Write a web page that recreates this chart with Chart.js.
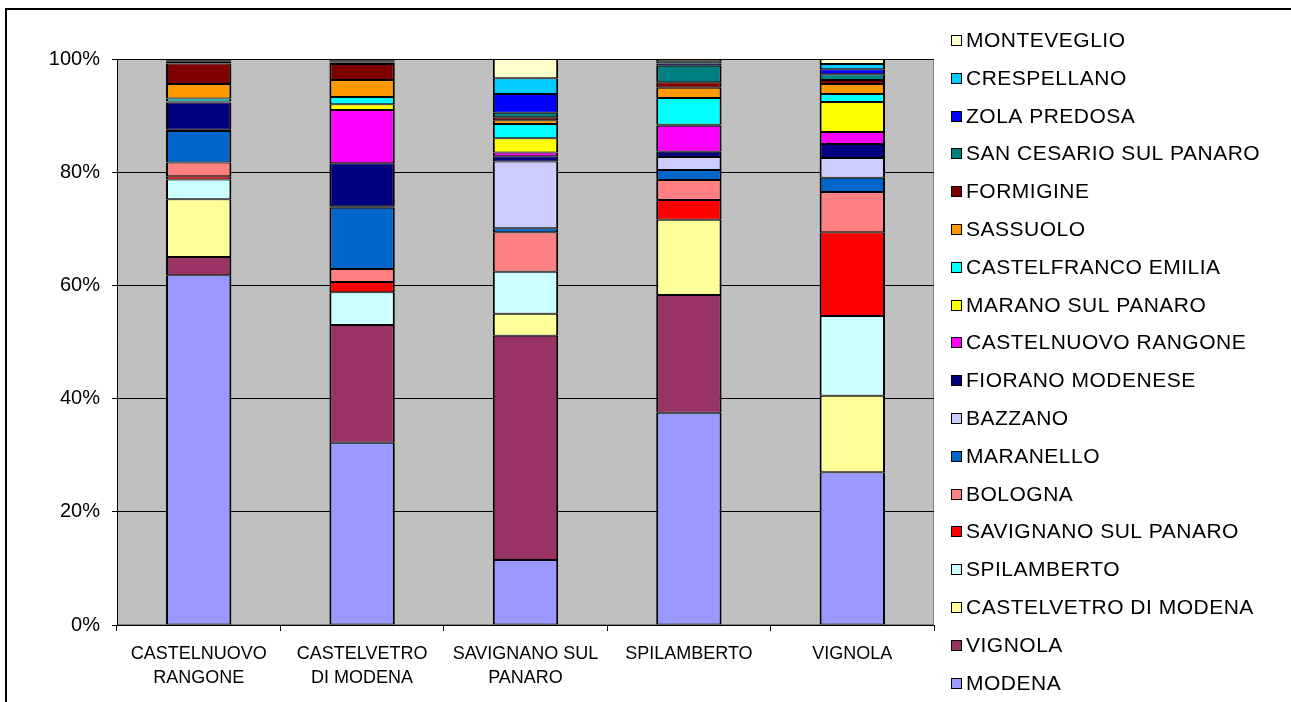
<!DOCTYPE html>
<html>
<head>
<meta charset="utf-8">
<script src="https://cdn.jsdelivr.net/npm/chart.js@4.4.1/dist/chart.umd.min.js"></script>
<style>
  html, body { margin: 0; padding: 0; background: #fff; }
  #wrap { width: 1291px; height: 702px; position: relative; }
</style>
</head>
<body>
<div id="wrap"><canvas id="chart" width="1291" height="702"></canvas></div>
<script>
// Categories (x axis), two-line labels like the original
const categories = [
    ['CASTELNUOVO', 'RANGONE'],
    ['CASTELVETRO', 'DI MODENA'],
    ['SAVIGNANO SUL', 'PANARO'],
    ['SPILAMBERTO'],
    ['VIGNOLA']
];

// Share (%) of each origin in each category, bottom to top
const modena       = [61.8, 32.2, 11.5, 37.5, 27.0];
const vignola      = [3.2, 20.8, 39.6, 20.8, 0];
const castelvetro  = [10.2, 0, 3.9, 13.3, 13.5];
const spilamberto  = [3.5, 5.8, 7.4, 0, 14.1];
const savignano    = [0.6, 1.8, 0, 3.5, 14.8];
const bologna      = [2.4, 2.3, 7.0, 3.5, 7.1];
const maranello    = [5.6, 10.8, 0.7, 1.8, 2.5];
const bazzano      = [0.2, 0.3, 11.8, 2.3, 3.5];
const fiorano      = [4.8, 7.6, 0.9, 0.9, 2.5];
const castelnuovo  = [0, 9.4, 0.7, 4.6, 2.1];
const marano       = [0.2, 1.0, 2.5, 0.2, 5.3];
const castelfranco = [0.5, 1.3, 2.5, 4.7, 1.4];
const sassuolo     = [2.6, 3.0, 0.7, 1.8, 1.8];
const formigine    = [3.6, 2.8, 0.5, 1.0, 0.7];
const sanCesario   = [0.3, 0.3, 0.8, 2.9, 1.0];
const zola         = [0.2, 0.2, 3.3, 0.4, 0.9];
const crespellano  = [0.2, 0.2, 2.8, 0.4, 0.9];
const monteveglio  = [0.1, 0.2, 3.4, 0.4, 0.9];

const seriesNames = [
    'MODENA', 'VIGNOLA', 'CASTELVETRO DI MODENA', 'SPILAMBERTO', 'SAVIGNANO SUL PANARO',
    'BOLOGNA', 'MARANELLO', 'BAZZANO', 'FIORANO MODENESE', 'CASTELNUOVO RANGONE',
    'MARANO SUL PANARO', 'CASTELFRANCO EMILIA', 'SASSUOLO', 'FORMIGINE',
    'SAN CESARIO SUL PANARO', 'ZOLA PREDOSA', 'CRESPELLANO', 'MONTEVEGLIO'
];
const seriesValues = [
    modena, vignola, castelvetro, spilamberto, savignano, bologna, maranello, bazzano,
    fiorano, castelnuovo, marano, castelfranco, sassuolo, formigine, sanCesario, zola,
    crespellano, monteveglio
];

const yTicks = [0, 20, 40, 60, 80, 100];

const seriesColors = [
    '#9999FF', '#993366', '#FFFF99', '#CCFFFF', '#FF0000', '#FF8080', '#0066CC', '#CCCCFF',
    '#000080', '#FF00FF', '#FFFF00', '#00FFFF', '#FF9900', '#800000', '#008080', '#0000FF',
    '#00CCFF', '#FFFFCC'
];

const FONT = '"Liberation Sans", Arial, sans-serif';

// grey plot background + outer frame
const framePlugin = {
    id: 'frame',
    beforeDraw(chart) {
        const { ctx, chartArea: a } = chart;
        ctx.save();
        ctx.fillStyle = '#fff';
        ctx.fillRect(0, 0, chart.width, chart.height);
        ctx.fillStyle = '#C0C0C0';
        ctx.fillRect(a.left, a.top, a.right - a.left, a.bottom - a.top);
        ctx.strokeStyle = '#808080';
        ctx.lineWidth = 1;
        ctx.strokeRect(a.left + 0.5, a.top + 0.5, a.right - a.left - 1, a.bottom - a.top - 1);
        ctx.restore();
    },
    afterDraw(chart) {
        const ctx = chart.ctx;
        ctx.save();
        ctx.strokeStyle = '#000';
        ctx.lineWidth = 2;
        ctx.beginPath();
        ctx.moveTo(6, chart.height);
        ctx.lineTo(6, 9);
        ctx.lineTo(chart.width, 9);
        ctx.stroke();
        ctx.restore();
    }
};

// legend on the right, reversed order, drawn from the datasets
const sideLegend = {
    id: 'sideLegend',
    afterDraw(chart) {
        const ctx = chart.ctx;
        const sets = chart.data.datasets;
        const n = sets.length;
        ctx.save();
        ctx.font = '21px ' + FONT;
        ctx.letterSpacing = '0.5px';
        ctx.textBaseline = 'middle';
        ctx.textAlign = 'left';
        sets.forEach((ds, i) => {
            const y = Math.round(40 + (n - 1 - i) * 37.8);
            ctx.fillStyle = ds.backgroundColor;
            ctx.fillRect(951, y - 5, 11, 11);
            ctx.strokeStyle = '#000';
            ctx.lineWidth = 1;
            ctx.strokeRect(951.5, y - 4.5, 10, 10);
            ctx.fillStyle = '#000';
            ctx.fillText(ds.label, 966, y + 1);
        });
        ctx.restore();
    }
};

const ctx = document.getElementById('chart').getContext('2d');
const chart = new Chart(ctx, {
    type: 'bar',
    data: {
        labels: categories,
        datasets: seriesNames.map((name, i) => ({
            label: name,
            data: seriesValues[i],
            backgroundColor: seriesColors[i],
            borderColor: '#000',
            borderWidth: { left: 2, right: 2, top: 1, bottom: 1 },
            borderSkipped: false,
            categoryPercentage: 1,
            barPercentage: 0.4
        }))
    },
    options: {
        responsive: false,
        animation: false,
        layout: { padding: { left: 0, right: 357, top: 59, bottom: 0 } },
        plugins: {
            legend: { display: false },
            tooltip: { enabled: false }
        },
        scales: {
            x: {
                stacked: true,
                grid: { display: true, drawOnChartArea: false, color: '#000', tickLength: 6, offset: true },
                border: { color: '#000', width: 1 },
                ticks: { color: '#000', font: { family: FONT, size: 18, lineHeight: 1.33 }, padding: 11, maxRotation: 0, autoSkip: false },
                afterFit(scale) { scale.height = 77; }
            },
            y: {
                stacked: true,
                min: 0,
                max: 100,
                afterBuildTicks(scale) { scale.ticks = yTicks.map(v => ({ value: v })); },
                grid: { color: '#000', tickLength: 5 },
                border: { color: '#000', width: 1 },
                ticks: { color: '#000', font: { family: FONT, size: 20 }, padding: 12, callback: v => v + '%' },
                afterFit(scale) { scale.width = 117; }
            }
        }
    },
    plugins: [framePlugin, sideLegend]
});
</script>
</body>
</html>
